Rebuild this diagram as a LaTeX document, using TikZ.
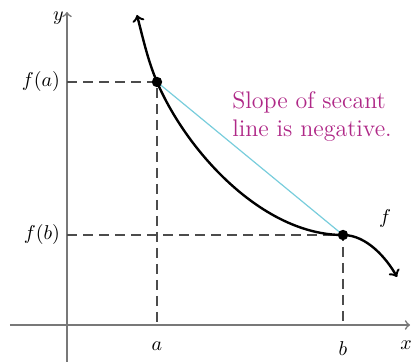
\documentclass[tikz,border=0pt]{standalone}
\usepackage{tikz}
\definecolor{secantblue}{RGB}{120,205,220}
\definecolor{notemagenta}{RGB}{175,40,135}
\definecolor{axisgray}{RGB}{120,120,120}

\begin{document}
\begin{tikzpicture}[x=10pt, y=10pt]
    \useasboundingbox (-3.35,-1.85) rectangle (17.2,16.25);
    \tikzset{guide/.style={dash pattern=on 5pt off 3pt, semithick, black!70}}
    \coordinate (O) at (0,0);
    \coordinate (A) at (4.5,12.15);
    \coordinate (B) at (13.8,4.5);
    \coordinate (Ax) at (4.5,0);
    \coordinate (Bx) at (13.8,0);
    \coordinate (Ay) at (0,12.15);
    \coordinate (By) at (0,4.5);
    \coordinate (top) at (3.5,15.5);
    \coordinate (tail) at (16.5,2.4);
    \draw[thick, axisgray, ->] (-2.85,0) -- (17.15,0) node[below, black, xshift=-2pt, yshift=-4pt] (xl) {$x$};
    \draw[thick, axisgray, ->] (0,-1.85) -- (0,15.65) node[left, black, xshift=2pt, yshift=-3pt] (yl) {$y$};
    \draw[guide] (Ay) -- (A) -- (Ax);
    \draw[guide] (By) -- (B) -- (Bx);
    \draw[secantblue, semithick] (A) -- (B);
    \draw[very thick, <-] (top) .. controls (3.9,13.9) and (4.1,13.1) .. (A)
        .. controls (6,8.65) and (9.8,4.5) .. (B);
    \draw[very thick, ->] (B) .. controls (15,4.5) and (16,3.3) .. (tail);
    \fill (A) circle (2.6pt);
    \fill (B) circle (2.6pt);
    \node at (Ay) [left] (fa) {$f(a)$};
    \node at (By) [left] (fb) {$f(b)$};
    \node at (Ax) [below=5pt] (la) {$a$};
    \node at (Bx) [below=5pt] (lb) {$b$};
    \node at (15.9,5.3) (lf) {$f$};
    \node at (12.25,10.4) [notemagenta, align=left, font=\large] (note) {Slope of secant\\line is negative.};
\end{tikzpicture}
\end{document}
